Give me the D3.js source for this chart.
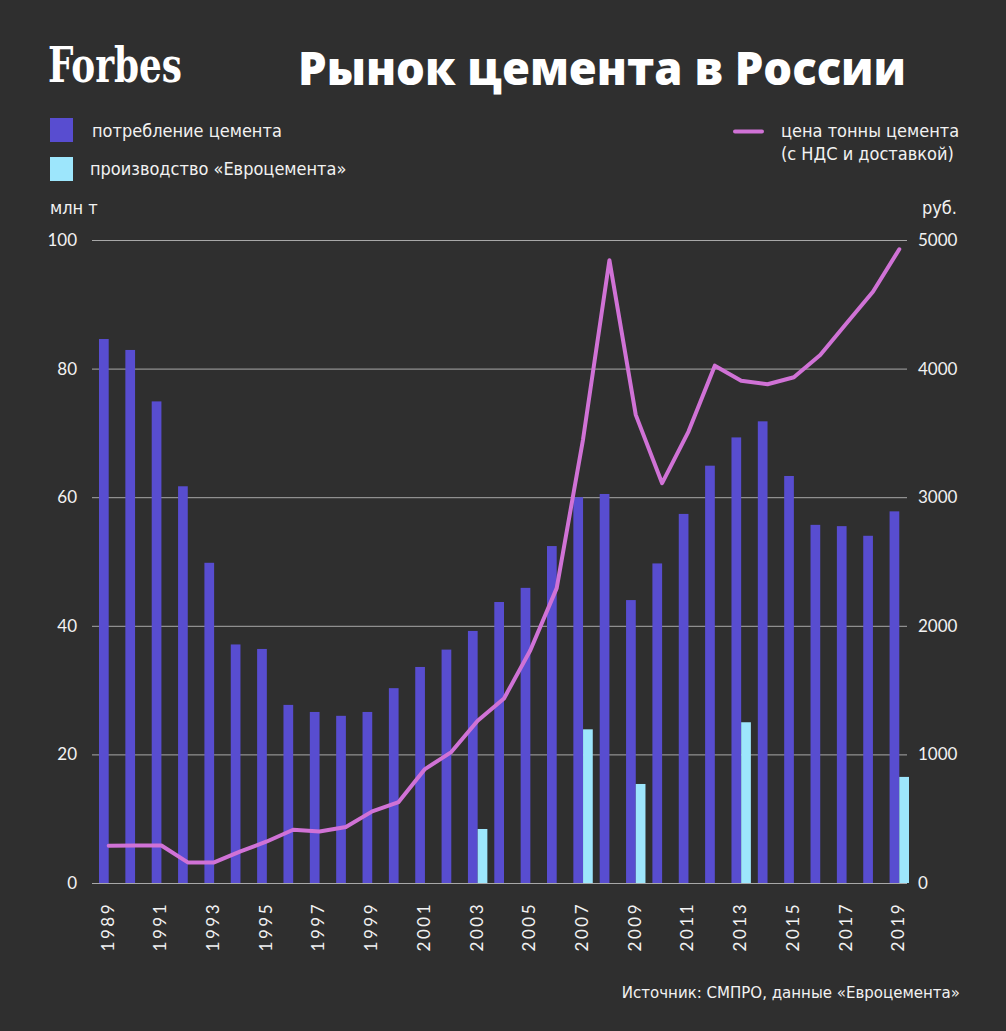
<!DOCTYPE html>
<html>
<head>
<meta charset="utf-8">
<script src="https://cdn.jsdelivr.net/npm/d3@7"></script>
<style>
  body { margin: 0; background: #2f2f2f; }
  svg { display: block; }
  .cond { font-family: "Liberation Sans Narrow", "DejaVu Sans Condensed", "Roboto", sans-serif; }
  .tick text { font-family: "Lato", "Open Sans", sans-serif; }
</style>
</head>
<body>
<div id="chart"></div>
<script>
(function () {

  // Data
  const years = d3.range(1989, 2020)
  const consumption = [84.6, 82.9, 74.9, 61.7, 49.8, 37.1, 36.4, 27.7, 26.6, 26.0,
    26.6, 30.3, 33.6, 36.3, 39.2, 43.7, 45.9, 52.4, 60.0, 60.5,
    44.0, 49.7, 57.4, 64.9, 69.3, 71.8, 63.3, 55.7, 55.5, 54.0, 57.8]
  const production = [null, null, null, null, null, null, null, null, null, null,
    null, null, null, null, 8.4, null, null, null, 23.9, null,
    15.4, null, null, null, 25.0, null, null, null, null, null, 16.5]
  const price = [290, 292, 292, 160, 160, 246, 323, 414, 401, 435,
    557, 629, 886, 1018, 1261, 1435, 1810, 2293, 3450, 4843,
    3640, 3109, 3510, 4023, 3906, 3878, 3933, 4106, 4352, 4598, 4928]
  const leftTicks = [0, 20, 40, 60, 80, 100]
  const rightTicks = [0, 1000, 2000, 3000, 4000, 5000]
  const labelYears = years.filter(y => (y - 1989) % 2 === 0)

  const W = 1006, H = 1031
  const plot = { left: 92, right: 907, top: 240, bottom: 883 }

  const colBlue = "#584dd0"
  const colLight = "#9de6fc"
  const colLine = "#d072d6"
  const colText = "#f2f2f2"

  const svg = d3.select("#chart").append("svg")
      .attr("width", W)
      .attr("height", H)

  svg.append("rect").attr("width", W).attr("height", H).attr("fill", "#2f2f2f")

  // Scales
  const x = d3.scaleBand()
    .domain(years)
    .range([99, 909])
    .paddingInner(0.263)
    .paddingOuter(0)
  const xSub = d3.scaleBand()
    .domain(["c", "p"])
    .range([0, x.bandwidth()])
  const yLeft = d3.scaleLinear().domain([0, 100]).range([plot.bottom, plot.top])
  const yRight = d3.scaleLinear().domain([0, 5000]).range([plot.bottom, plot.top])

  // Grid + left axis
  const gLeft = svg.append("g")
    .attr("transform", "translate(" + plot.left + ",0)")
    .call(d3.axisLeft(yLeft).tickValues(leftTicks).tickSize(-(plot.right - plot.left)).tickPadding(15))
  gLeft.select(".domain").remove()
  gLeft.selectAll(".tick line").attr("stroke", "#a8a8a8").attr("stroke-width", 1)
  gLeft.selectAll(".tick text").attr("fill", colText).attr("font-size", 17)

  const gRight = svg.append("g")
    .attr("transform", "translate(" + plot.right + ",0)")
    .call(d3.axisRight(yRight).tickValues(rightTicks).tickFormat(d3.format("d")).tickSize(0).tickPadding(11))
  gRight.select(".domain").remove()
  gRight.selectAll(".tick text").attr("fill", colText).attr("font-size", 17)

  // Bars
  const rows = years.map((y, i) => ({ year: y, c: consumption[i], p: production[i], price: price[i] }))

  svg.append("g").selectAll("rect")
    .data(rows)
    .join("rect")
    .attr("x", d => x(d.year) + xSub("c"))
    .attr("width", xSub.bandwidth())
    .attr("y", d => yLeft(d.c))
    .attr("height", d => yLeft(0) - yLeft(d.c))
    .attr("fill", colBlue)

  svg.append("g").selectAll("rect")
    .data(rows.filter(d => d.p != null))
    .join("rect")
    .attr("x", d => x(d.year) + xSub("p"))
    .attr("width", xSub.bandwidth())
    .attr("y", d => yLeft(d.p))
    .attr("height", d => yLeft(0) - yLeft(d.p))
    .attr("fill", colLight)

  // Price line
  const line = d3.line()
    .x(d => x(d.year) + x.bandwidth() / 2)
    .y(d => yRight(d.price))

  svg.append("path")
    .datum(rows)
    .attr("d", line)
    .attr("fill", "none")
    .attr("stroke", colLine)
    .attr("stroke-width", 4)
    .attr("stroke-linejoin", "round")
    .attr("stroke-linecap", "round")

  // Year labels
  svg.append("g").selectAll("text")
    .data(labelYears)
    .join("text")
    .attr("transform", d => "translate(" + (x(d) + x.bandwidth() / 2 - 1) + ",902) rotate(-90)")
    .attr("text-anchor", "end")
    .attr("dy", "0.35em")
    .attr("fill", colText)
    .attr("font-family", "Lato, 'Open Sans', sans-serif")
    .attr("font-size", 17)
    .attr("letter-spacing", 2.5)
    .text(d => d)

  // Header
  svg.append("text")
    .attr("x", 48).attr("y", 82)
    .attr("fill", "#ffffff")
    .attr("font-family", "'DejaVu Serif Condensed', 'Liberation Serif', serif")
    .attr("font-weight", "bold")
    .attr("font-size", 48)
    .attr("textLength", 134)
    .attr("lengthAdjust", "spacingAndGlyphs")
    .text("Forbes")

  svg.append("text")
    .attr("x", 298).attr("y", 85)
    .attr("fill", "#ffffff")
    .attr("font-family", "'Open Sans', sans-serif")
    .attr("font-weight", 800)
    .attr("font-size", 46)
    .attr("textLength", 608)
    .attr("lengthAdjust", "spacingAndGlyphs")
    .text("Рынок цемента в России")

  // Legend
  svg.append("rect").attr("x", 50).attr("y", 118).attr("width", 23).attr("height", 24).attr("fill", colBlue)
  svg.append("rect").attr("x", 50).attr("y", 157).attr("width", 23).attr("height", 24).attr("fill", colLight)
  svg.append("line").attr("x1", 735).attr("x2", 762).attr("y1", 131.5).attr("y2", 131.5)
    .attr("stroke", colLine).attr("stroke-width", 4).attr("stroke-linecap", "round")

  const texts = [
    { t: "потребление цемента", x: 92, y: 137, a: "start", s: 18 },
    { t: "производство «Евроцемента»", x: 90, y: 175, a: "start", s: 18 },
    { t: "цена тонны цемента", x: 781, y: 137, a: "start", s: 18 },
    { t: "(с НДС и доставкой)", x: 781, y: 160, a: "start", s: 18 },
    { t: "млн т", x: 50, y: 214, a: "start", s: 18 },
    { t: "руб.", x: 957, y: 214, a: "end", s: 18 },
    { t: "Источник: СМПРО, данные «Евроцемента»", x: 960, y: 998, a: "end", s: 16.7 }
  ]
  svg.append("g").selectAll("text")
    .data(texts)
    .join("text")
    .attr("class", "cond")
    .attr("x", d => d.x)
    .attr("y", d => d.y)
    .attr("text-anchor", d => d.a)
    .attr("fill", colText)
    .attr("font-size", d => d.s)
    .text(d => d.t)

})();
</script>
</body>
</html>
